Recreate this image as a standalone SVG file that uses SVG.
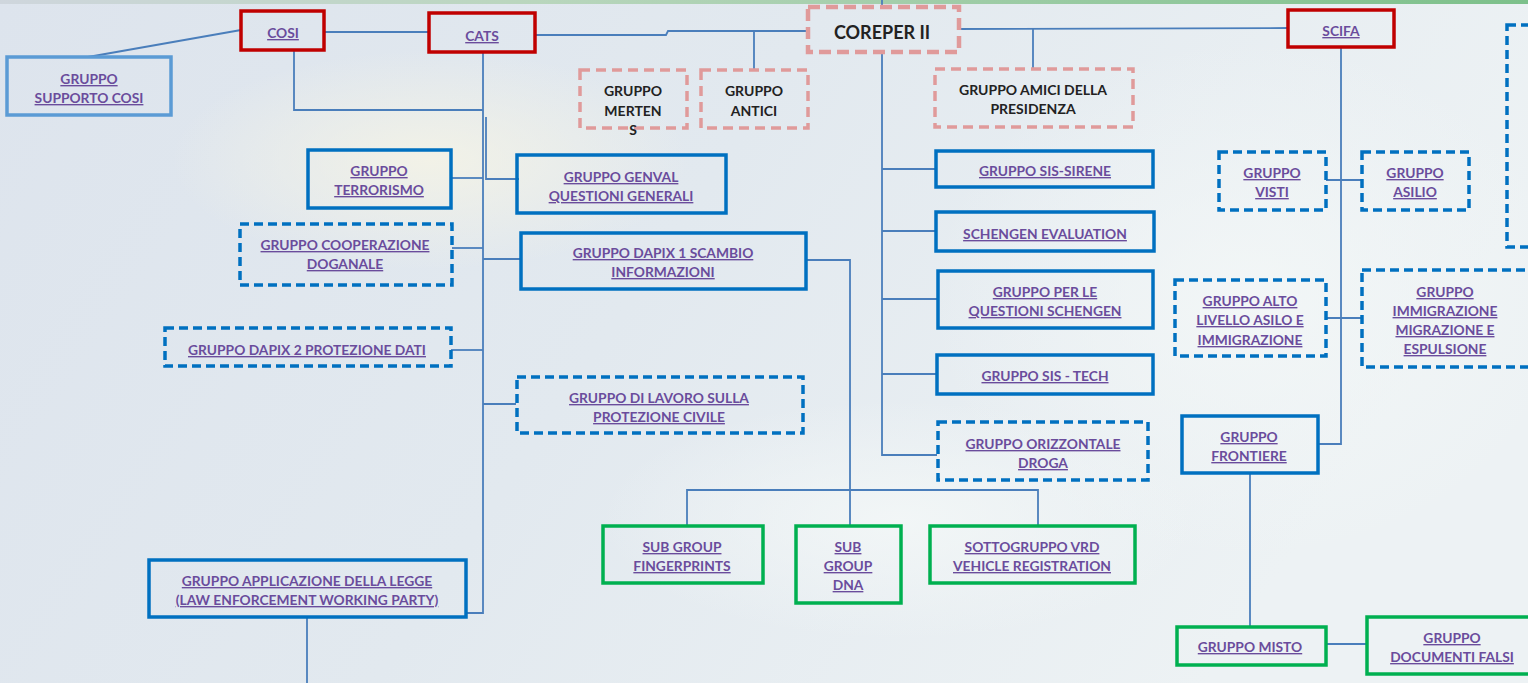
<svg xmlns="http://www.w3.org/2000/svg" width="1528" height="683" viewBox="0 0 1528 683">
<defs>
<linearGradient id="bg" x1="0" y1="0" x2="1" y2="0.3">
<stop offset="0" stop-color="#dde4ed"/>
<stop offset="0.5" stop-color="#e2e9ef"/>
<stop offset="1" stop-color="#edf2f4"/>
</linearGradient>
<radialGradient id="glow1" cx="0.5" cy="0.5" r="0.5">
<stop offset="0" stop-color="#f4f3e6" stop-opacity="0.9"/>
<stop offset="1" stop-color="#f4f3e6" stop-opacity="0"/>
</radialGradient>
<radialGradient id="glow2" cx="0.5" cy="0.5" r="0.5">
<stop offset="0" stop-color="#f3f7f7" stop-opacity="0.9"/>
<stop offset="1" stop-color="#f3f7f7" stop-opacity="0"/>
</radialGradient>
<linearGradient id="topline" x1="0" y1="0" x2="1" y2="0">
<stop offset="0" stop-color="#cfd6dd"/>
<stop offset="0.35" stop-color="#b9d6bd"/>
<stop offset="1" stop-color="#7cc08a"/>
</linearGradient>
</defs>
<style>
.lbl{font-family:Lato,"Liberation Sans",sans-serif;font-weight:bold;font-size:13.8px;fill:#6a4c9c;text-decoration:underline;text-anchor:middle}
.blk{font-family:Lato,"Liberation Sans",sans-serif;font-weight:bold;font-size:14px;fill:#222;text-anchor:middle}
.big{font-family:Lato,"Liberation Sans",sans-serif;font-weight:bold;font-size:18px;fill:#222;text-anchor:middle}
.red{fill:none;stroke:#c00000;stroke-width:3.5}
.pink{fill:none;stroke:#e09a9a;stroke-width:3.5;stroke-dasharray:10 6}
.pinkbig{fill:none;stroke:#e09a9a;stroke-width:4.5;stroke-dasharray:12 6}
.blue{fill:none;stroke:#0070c0;stroke-width:3.5}
.dblue{fill:none;stroke:#0070c0;stroke-width:3.5;stroke-dasharray:9 5}
.lblue{fill:none;stroke:#5b9bd5;stroke-width:3.5}
.green{fill:none;stroke:#00b050;stroke-width:3.5}
.con{fill:none;stroke:#4a7ebb;stroke-width:1.8}
</style>
<rect x="0" y="0" width="1528" height="683" fill="url(#bg)"/>
<ellipse cx="430" cy="160" rx="260" ry="110" fill="url(#glow1)"/>
<ellipse cx="1250" cy="300" rx="320" ry="260" fill="url(#glow2)"/>
<ellipse cx="900" cy="520" rx="300" ry="120" fill="url(#glow2)"/>
<rect x="0" y="0" width="1528" height="4" fill="url(#topline)"/>

<g id="connectors">
<polyline class="con" points="88,57 241,30"/>
<polyline class="con" points="324,32 429,32"/>
<polyline class="con" points="535,35 666,35 668,31 807,31"/>
<polyline class="con" points="754,31 754,69"/>
<polyline class="con" points="882,0 882,6"/>
<polyline class="con" points="959,29 1288,28"/>
<polyline class="con" points="1033,29 1033,68"/>
<polyline class="con" points="294,50 294,110 483,110"/>
<polyline class="con" points="483,52 483,613 466,613"/>
<polyline class="con" points="486,117 486,179 519,179"/>
<polyline class="con" points="451,178 483,178"/>
<polyline class="con" points="452,248 483,248"/>
<polyline class="con" points="483,259 520,259"/>
<polyline class="con" points="451,350 483,350"/>
<polyline class="con" points="483,404 516,404"/>
<polyline class="con" points="806,260 850,260 850,525"/>
<polyline class="con" points="687,525 687,490 1038,490 1038,525"/>
<polyline class="con" points="307,617 307,683"/>
<polyline class="con" points="882,52 882,455 937,455"/>
<polyline class="con" points="882,169 936,169"/>
<polyline class="con" points="882,231 936,231"/>
<polyline class="con" points="882,299 938,299"/>
<polyline class="con" points="882,374 937,374"/>
<polyline class="con" points="1341,47 1341,444 1318,444"/>
<polyline class="con" points="1326,180 1362,180"/>
<polyline class="con" points="1326,318 1362,318 1362,320"/>
<polyline class="con" points="1250,473 1250,626"/>
<polyline class="con" points="1326,644 1366,644"/>
</g>

<g id="cosi"><rect class="red" x="241" y="11" width="83" height="39"/><text class="lbl" x="283" y="38">COSI</text></g>
<g id="cats"><rect class="red" x="429" y="13" width="106" height="39"/><text class="lbl" x="482" y="41">CATS</text></g>
<g id="supporto"><rect class="lblue" x="7" y="57" width="164" height="58"/><text class="lbl" x="89" y="84">GRUPPO</text><text class="lbl" x="89" y="103">SUPPORTO COSI</text></g>
<g id="coreper"><rect class="pinkbig" x="808" y="7" width="151" height="45"/><text class="big" x="882" y="39">COREPER II</text></g>
<g id="mertens"><rect class="pink" x="580" y="70" width="107" height="58"/><text class="blk" x="633" y="96">GRUPPO</text><text class="blk" x="633" y="116">MERTEN</text><text class="blk" x="633" y="135">S</text></g>
<g id="antici"><rect class="pink" x="701" y="70" width="107" height="58"/><text class="blk" x="754" y="96">GRUPPO</text><text class="blk" x="754" y="116">ANTICI</text></g>
<g id="amici"><rect class="pink" x="935" y="69" width="198" height="58"/><text class="blk" x="1033" y="95">GRUPPO AMICI DELLA</text><text class="blk" x="1033" y="114">PRESIDENZA</text></g>
<g id="scifa"><rect class="red" x="1288" y="10" width="106" height="37"/><text class="lbl" x="1341" y="36">SCIFA</text></g>
<g id="rightbox"><rect class="dblue" x="1507" y="25" width="40" height="222"/></g>
<g id="visti"><rect class="dblue" x="1219" y="152" width="107" height="58"/><text class="lbl" x="1272" y="178">GRUPPO</text><text class="lbl" x="1272" y="197">VISTI</text></g>
<g id="asilio"><rect class="dblue" x="1362" y="152" width="107" height="58"/><text class="lbl" x="1415" y="178">GRUPPO</text><text class="lbl" x="1415" y="197">ASILIO</text></g>
<g id="alto"><rect class="dblue" x="1175" y="280" width="151" height="76"/><text class="lbl" x="1250" y="306">GRUPPO ALTO</text><text class="lbl" x="1250" y="325">LIVELLO ASILO E</text><text class="lbl" x="1250" y="345">IMMIGRAZIONE</text></g>
<g id="immigrazione"><rect class="dblue" x="1362" y="270" width="175" height="97"/><text class="lbl" x="1445" y="297">GRUPPO</text><text class="lbl" x="1445" y="316">IMMIGRAZIONE</text><text class="lbl" x="1445" y="335">MIGRAZIONE E</text><text class="lbl" x="1445" y="354">ESPULSIONE</text></g>
<g id="frontiere"><rect class="blue" x="1182" y="416" width="136" height="57"/><text class="lbl" x="1249" y="442">GRUPPO</text><text class="lbl" x="1249" y="461">FRONTIERE</text></g>
<g id="misto"><rect class="green" x="1177" y="627" width="149" height="38"/><text class="lbl" x="1250" y="652">GRUPPO MISTO</text></g>
<g id="falsi"><rect class="green" x="1367" y="617" width="170" height="57"/><text class="lbl" x="1452" y="643">GRUPPO</text><text class="lbl" x="1452" y="662">DOCUMENTI FALSI</text></g>
<g id="sirene"><rect class="blue" x="936" y="151" width="217" height="36"/><text class="lbl" x="1045" y="176">GRUPPO SIS-SIRENE</text></g>
<g id="evaluation"><rect class="blue" x="936" y="212" width="218" height="39"/><text class="lbl" x="1045" y="239">SCHENGEN EVALUATION</text></g>
<g id="questioni"><rect class="blue" x="938" y="271" width="215" height="57"/><text class="lbl" x="1045" y="297">GRUPPO PER LE</text><text class="lbl" x="1045" y="316">QUESTIONI SCHENGEN</text></g>
<g id="tech"><rect class="blue" x="937" y="355" width="216" height="39"/><text class="lbl" x="1045" y="381">GRUPPO SIS - TECH</text></g>
<g id="droga"><rect class="dblue" x="938" y="422" width="210" height="58"/><text class="lbl" x="1043" y="449">GRUPPO ORIZZONTALE</text><text class="lbl" x="1043" y="468">DROGA</text></g>
<g id="terrorismo"><rect class="blue" x="308" y="150" width="143" height="58"/><text class="lbl" x="379" y="176">GRUPPO</text><text class="lbl" x="379" y="195">TERRORISMO</text></g>
<g id="genval"><rect class="blue" x="517" y="155" width="209" height="58"/><text class="lbl" x="621" y="182">GRUPPO GENVAL</text><text class="lbl" x="621" y="201">QUESTIONI GENERALI</text></g>
<g id="doganale"><rect class="dblue" x="240" y="224" width="212" height="61"/><text class="lbl" x="345" y="250">GRUPPO COOPERAZIONE</text><text class="lbl" x="345" y="269">DOGANALE</text></g>
<g id="dapix1"><rect class="blue" x="521" y="233" width="285" height="56"/><text class="lbl" x="663" y="258">GRUPPO DAPIX 1 SCAMBIO</text><text class="lbl" x="663" y="277">INFORMAZIONI</text></g>
<g id="dapix2"><rect class="dblue" x="165" y="328" width="286" height="38"/><text class="lbl" x="307" y="355">GRUPPO DAPIX 2 PROTEZIONE DATI</text></g>
<g id="civile"><rect class="dblue" x="517" y="377" width="286" height="56"/><text class="lbl" x="659" y="403">GRUPPO DI LAVORO SULLA</text><text class="lbl" x="659" y="422">PROTEZIONE CIVILE</text></g>
<g id="legge"><rect class="blue" x="149" y="560" width="317" height="57"/><text class="lbl" x="307" y="586">GRUPPO APPLICAZIONE DELLA LEGGE</text><text class="lbl" x="307" y="605">(LAW ENFORCEMENT WORKING PARTY)</text></g>
<g id="fingerprints"><rect class="green" x="603" y="526" width="160" height="57"/><text class="lbl" x="682" y="552">SUB GROUP</text><text class="lbl" x="682" y="571">FINGERPRINTS</text></g>
<g id="dna"><rect class="green" x="796" y="526" width="105" height="77"/><text class="lbl" x="848" y="552">SUB</text><text class="lbl" x="848" y="571">GROUP</text><text class="lbl" x="848" y="590">DNA</text></g>
<g id="vrd"><rect class="green" x="930" y="526" width="205" height="57"/><text class="lbl" x="1032" y="552">SOTTOGRUPPO VRD</text><text class="lbl" x="1032" y="571">VEHICLE REGISTRATION</text></g>
</svg>
